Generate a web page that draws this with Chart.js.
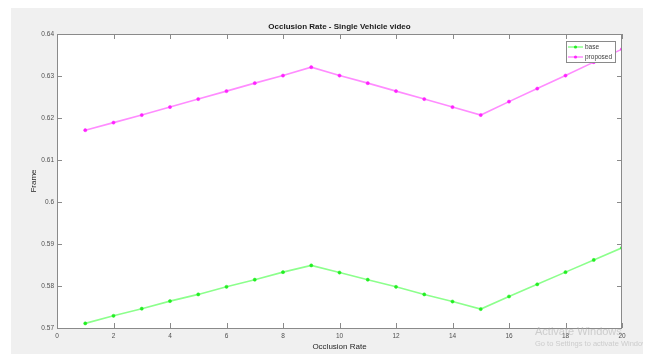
<!DOCTYPE html>
<html>
<head>
<meta charset="utf-8">
<script src="https://cdn.jsdelivr.net/npm/chart.js@4.4.1/dist/chart.umd.min.js"></script>
<style>
  body { margin: 0; background: #ffffff; }
  canvas { display: block; }
</style>
</head>
<body>
<canvas id="chart" width="647" height="354"></canvas>
<script>
// Data
const occlusionRate = [1, 2, 3, 4, 5, 6, 7, 8, 9, 10, 11, 12, 13, 14, 15, 16, 17, 18, 19, 20];
const baseFrame = [0.5711, 0.5729, 0.5746, 0.5764, 0.5780, 0.5798, 0.5815, 0.5833, 0.5849, 0.5832,
                   0.5815, 0.5798, 0.5780, 0.5763, 0.5745, 0.5775, 0.5804, 0.5833, 0.5862, 0.5891];
const proposedFrame = [0.6171, 0.6189, 0.6207, 0.6226, 0.6245, 0.6264, 0.6283, 0.6301, 0.6321, 0.6301,
                       0.6283, 0.6264, 0.6245, 0.6226, 0.6207, 0.6239, 0.6270, 0.6301, 0.6333, 0.6364];
const seriesNames = ['base', 'proposed'];
const xTicks = [0, 2, 4, 6, 8, 10, 12, 14, 16, 18, 20];
const yTicks = [0.57, 0.58, 0.59, 0.6, 0.61, 0.62, 0.63, 0.64];

const FONT = "'Liberation Sans', Arial, Helvetica, sans-serif";

function toPoints(xs, ys) {
    return xs.map((x, i) => ({ x: x, y: ys[i] }));
}

// Figure background, axes box, inward ticks, title, legend
const matlabFrame = {
    id: 'matlabFrame',
    beforeDraw(chart) {
        const ctx = chart.ctx;
        const a = chart.chartArea;
        ctx.save();
        ctx.fillStyle = '#f0f0f0';
        ctx.fillRect(11, 8, 632, 346);
        ctx.fillStyle = '#ffffff';
        ctx.fillRect(a.left, a.top, a.right - a.left, a.bottom - a.top);
        ctx.restore();
    },
    afterDatasetsDraw(chart) {
        const ctx = chart.ctx;
        const a = chart.chartArea;
        const xs = chart.scales.x;
        const ys = chart.scales.y;
        ctx.save();
        ctx.strokeStyle = '#8a8a8a';
        ctx.lineWidth = 1;
        ctx.strokeRect(a.left + 0.5, a.top + 0.5, a.right - a.left - 1, a.bottom - a.top);
        ctx.beginPath();
        xs.ticks.forEach(t => {
            const px = Math.round(xs.getPixelForValue(t.value)) + 0.5;
            ctx.moveTo(px, a.bottom); ctx.lineTo(px, a.bottom - 5);
            ctx.moveTo(px, a.top); ctx.lineTo(px, a.top + 5);
        });
        ys.ticks.forEach(t => {
            const py = Math.round(ys.getPixelForValue(t.value)) + 0.5;
            ctx.moveTo(a.left, py); ctx.lineTo(a.left + 5, py);
            ctx.moveTo(a.right, py); ctx.lineTo(a.right - 5, py);
        });
        ctx.stroke();

        // title
        ctx.fillStyle = '#1a1a1a';
        ctx.font = 'bold 8px ' + FONT;
        ctx.textAlign = 'center';
        ctx.textBaseline = 'middle';
        ctx.fillText('Occlusion Rate - Single Vehicle video', (a.left + a.right) / 2, 27);

        // legend
        const lx = 566, ly = 41, lw = 49, lh = 21;
        ctx.fillStyle = '#ffffff';
        ctx.fillRect(lx, ly, lw, lh);
        ctx.strokeStyle = '#8a8a8a';
        ctx.strokeRect(lx + 0.5, ly + 0.5, lw, lh);
        chart.data.datasets.forEach((ds, i) => {
            const ry = ly + 6 + i * 10;
            ctx.strokeStyle = ds.borderColor;
            ctx.lineWidth = 1.5;
            ctx.beginPath();
            ctx.moveTo(lx + 2, ry); ctx.lineTo(lx + 17, ry);
            ctx.stroke();
            ctx.fillStyle = ds.pointBackgroundColor;
            ctx.beginPath();
            ctx.arc(lx + 9.5, ry, 1.6, 0, Math.PI * 2);
            ctx.fill();
            ctx.fillStyle = '#404040';
            ctx.font = '6.5px ' + FONT;
            ctx.textAlign = 'left';
            ctx.fillText(ds.label, lx + 19, ry);
        });

        // screenshot watermark
        ctx.beginPath();
        ctx.rect(0, 0, 643, 354);
        ctx.clip();
        ctx.fillStyle = 'rgba(170,170,170,0.5)';
        ctx.font = '11px ' + FONT;
        ctx.textAlign = 'left';
        ctx.fillText('Activate Windows', 535, 332);
        ctx.font = '7.5px ' + FONT;
        ctx.fillText('Go to Settings to activate Windows.', 535, 344);
        ctx.restore();
    }
};

const ctx = document.getElementById('chart').getContext('2d');
new Chart(ctx, {
    type: 'line',
    data: {
        datasets: [{
            label: seriesNames[0],
            data: toPoints(occlusionRate, baseFrame),
            borderColor: '#8cff8c',
            backgroundColor: '#22ee22',
            pointBackgroundColor: '#22ee22',
            pointBorderColor: '#22ee22',
            borderWidth: 1.6,
            pointRadius: 1.6,
            pointBorderWidth: 0.5,
            pointStyle: 'circle',
            tension: 0
        }, {
            label: seriesNames[1],
            data: toPoints(occlusionRate, proposedFrame),
            borderColor: '#ff8cff',
            backgroundColor: '#ff22ff',
            pointBackgroundColor: '#ff22ff',
            pointBorderColor: '#ff22ff',
            borderWidth: 1.6,
            pointRadius: 1.6,
            pointBorderWidth: 0.5,
            pointStyle: 'circle',
            tension: 0
        }]
    },
    options: {
        responsive: false,
        animation: false,
        events: [],
        layout: { padding: { top: 34, right: 25, bottom: 0, left: 0 } },
        plugins: {
            legend: { display: false },
            title: { display: false },
            tooltip: { enabled: false }
        },
        scales: {
            x: {
                type: 'linear',
                min: 0,
                max: 20,
                afterFit(scale) { scale.height = 26; },
                afterBuildTicks(scale) { scale.ticks = xTicks.map(v => ({ value: v })); },
                grid: { display: false, drawTicks: false },
                border: { display: false },
                ticks: {
                    padding: 4,
                    color: '#505050',
                    font: { family: FONT, size: 6.5 },
                    maxRotation: 0,
                    autoSkip: false
                },
                title: {
                    display: true,
                    text: 'Occlusion Rate',
                    color: '#262626',
                    font: { family: FONT, size: 8 },
                    padding: { top: 0, bottom: 2.2 }
                }
            },
            y: {
                min: 0.57,
                max: 0.64,
                afterFit(scale) { scale.width = 57; },
                afterBuildTicks(scale) { scale.ticks = yTicks.map(v => ({ value: v })); },
                grid: { display: false, drawTicks: false },
                border: { display: false },
                ticks: {
                    padding: 3,
                    color: '#505050',
                    font: { family: FONT, size: 6.5 },
                    autoSkip: false,
                    callback: function(value) {
                        return String(Number(value.toFixed(2)));
                    }
                },
                title: {
                    display: true,
                    text: 'Frame',
                    color: '#262626',
                    font: { family: FONT, size: 8 },
                    padding: { top: 29, bottom: 0 }
                }
            }
        }
    },
    plugins: [matlabFrame]
});
</script>
</body>
</html>
